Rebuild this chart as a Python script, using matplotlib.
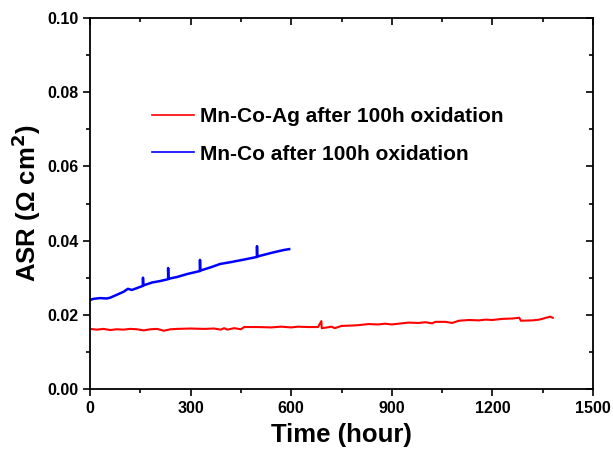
import matplotlib.pyplot as plt
from matplotlib.ticker import MultipleLocator, FormatStrFormatter

# Mn-Co-Ag coating (red)
t_ag = [0, 20, 40, 60, 80, 100, 120, 140, 160, 180, 200, 220, 240, 260, 300,
        340, 370, 390, 400, 410, 430, 450, 460, 500, 540, 570, 600, 620, 650,
        680, 690, 691, 700, 720, 730, 750, 780, 800, 830, 860, 880, 900, 920,
        950, 980, 1000, 1020, 1030, 1060, 1080, 1100, 1130, 1160, 1180, 1200,
        1230, 1260, 1280, 1285, 1320, 1340, 1360, 1372, 1380]
asr_ag = [0.0162, 0.0160, 0.0162, 0.0159, 0.0161, 0.0160, 0.0162, 0.0161,
          0.0158, 0.0161, 0.0162, 0.0157, 0.0161, 0.0162, 0.0163, 0.0162,
          0.0163, 0.0160, 0.0164, 0.0160, 0.0164, 0.0161, 0.0167, 0.0167,
          0.0166, 0.0168, 0.0166, 0.0168, 0.0167, 0.0167, 0.0183, 0.0164,
          0.0165, 0.0168, 0.0164, 0.0170, 0.0171, 0.0172, 0.0175, 0.0174,
          0.0176, 0.0174, 0.0176, 0.0179, 0.0178, 0.0180, 0.0177, 0.0181,
          0.0181, 0.0178, 0.0184, 0.0186, 0.0185, 0.0187, 0.0186, 0.0189,
          0.0190, 0.0192, 0.0184, 0.0185, 0.0187, 0.0192, 0.0195, 0.0192]

# Mn-Co coating (blue)
t_co = [0, 10, 30, 50, 60, 80, 100, 113, 125, 140, 158, 158, 158.5, 185, 209,
        233, 233, 233.5, 260, 290, 328, 328, 328.5, 360, 388, 420, 460, 498,
        498, 498.5, 537, 560, 580, 594]
asr_co = [0.0240, 0.0243, 0.0245, 0.0244, 0.0246, 0.0254, 0.0262, 0.0270,
          0.0267, 0.0272, 0.0278, 0.0300, 0.0279, 0.0287, 0.0291, 0.0296,
          0.0326, 0.0297, 0.0302, 0.0310, 0.0318, 0.0348, 0.0319, 0.0328,
          0.0337, 0.0342, 0.0349, 0.0356, 0.0385, 0.0357, 0.0366, 0.0371,
          0.0375, 0.0377]

labels = ["Mn-Co-Ag after 100h oxidation", "Mn-Co after 100h oxidation"]

plt.rcParams['font.family'] = ['Liberation Sans', 'DejaVu Sans']
plt.rcParams['font.weight'] = 'bold'
plt.rcParams['mathtext.default'] = 'bf'

fig = plt.figure(figsize=(6.13, 4.49), dpi=100)
ax = fig.add_axes([90 / 613, 1 - 389 / 449, 503 / 613, 371 / 449])

ax.plot(t_ag, asr_ag, color='#ff0000', lw=1.5, label=labels[0])
ax.plot(t_co, asr_co, color='#0000ff', lw=1.8, label=labels[1])

ax.set_xlim(0, 1500)
ax.set_ylim(0, 0.10)
ax.xaxis.set_major_locator(MultipleLocator(300))
ax.xaxis.set_minor_locator(MultipleLocator(150))
ax.yaxis.set_major_locator(MultipleLocator(0.02))
ax.yaxis.set_minor_locator(MultipleLocator(0.01))
ax.yaxis.set_major_formatter(FormatStrFormatter('%.2f'))

# ticks out on left/bottom, in on top/right
ax.tick_params(which='both', direction='out', width=1.2, labelsize=11.5,
               top=False, right=False)
ax.tick_params(which='major', length=5)
ax.tick_params(which='minor', length=3)
for side in ['top', 'right', 'left', 'bottom']:
    ax.spines[side].set_linewidth(1.3)
sec_x = ax.secondary_xaxis('top')
sec_x.xaxis.set_major_locator(MultipleLocator(300))
sec_x.xaxis.set_minor_locator(MultipleLocator(150))
sec_x.tick_params(which='both', direction='in', labeltop=False, width=1.2)
sec_x.tick_params(which='major', length=5)
sec_x.tick_params(which='minor', length=3)
sec_y = ax.secondary_yaxis('right')
sec_y.yaxis.set_major_locator(MultipleLocator(0.02))
sec_y.yaxis.set_minor_locator(MultipleLocator(0.01))
sec_y.tick_params(which='both', direction='in', labelright=False, width=1.2)
sec_y.tick_params(which='major', length=5)
sec_y.tick_params(which='minor', length=3)
sec_x.spines['top'].set_visible(False)
sec_y.spines['right'].set_visible(False)

ax.set_xlabel("Time (hour)", fontsize=18.5, fontweight='bold', labelpad=5)
ax.set_ylabel("ASR (Ω cm$^2$)", fontsize=18.5, fontweight='bold', labelpad=3)

leg = ax.legend(loc='upper left', bbox_to_anchor=(0.086, 0.81), frameon=False,
                prop={'size': 15, 'weight': 'bold'}, handlelength=2.0,
                handletextpad=0.3, labelspacing=0.88)
for line in leg.get_lines():
    line.set_linewidth(1.2)

fig.savefig("out.png", dpi=100)
